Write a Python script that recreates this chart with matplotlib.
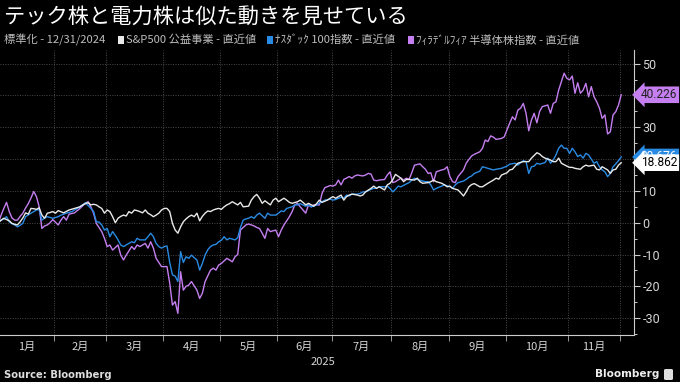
import matplotlib
matplotlib.use("Agg")
import matplotlib.pyplot as plt
import matplotlib.patches as mpatches
import matplotlib.transforms as mtransforms
import pandas as pd

plt.rcParams['font.family'] = ['Noto Sans CJK JP', 'DejaVu Sans']

# NYSE sessions, Dec 31 2024 .. Dec 1 2025 (the chart is drawn on a trading-day axis)
holidays = ['2025-01-01', '2025-01-09', '2025-01-20', '2025-02-17', '2025-04-18',
            '2025-05-26', '2025-06-19', '2025-07-04', '2025-09-01', '2025-11-27']
month_labels = ['1月', '2月', '3月', '4月', '5月', '6月', '7月', '8月', '9月', '10月', '11月']
year_label = '2025'

# Philadelphia semiconductor index, % change vs 12/31/2024
sox_dates = ['2024-12-31', '2025-01-02', '2025-01-03', '2025-01-06', '2025-01-07', '2025-01-08', '2025-01-10', '2025-01-13',
             '2025-01-14', '2025-01-15', '2025-01-16', '2025-01-17', '2025-01-21', '2025-01-22', '2025-01-23', '2025-01-24',
             '2025-01-27', '2025-01-28', '2025-01-29', '2025-01-30', '2025-01-31', '2025-02-04', '2025-02-05', '2025-02-06',
             '2025-02-07', '2025-02-10', '2025-02-12', '2025-02-14', '2025-02-19', '2025-02-20', '2025-02-21', '2025-02-24',
             '2025-02-25', '2025-02-27', '2025-02-28', '2025-03-03', '2025-03-04', '2025-03-05', '2025-03-07', '2025-03-10',
             '2025-03-11', '2025-03-12', '2025-03-14', '2025-03-17', '2025-03-18', '2025-03-19', '2025-03-21', '2025-03-24',
             '2025-03-25', '2025-03-26', '2025-03-27', '2025-03-31', '2025-04-01', '2025-04-02', '2025-04-03', '2025-04-04',
             '2025-04-07', '2025-04-08', '2025-04-09', '2025-04-10', '2025-04-11', '2025-04-14', '2025-04-15', '2025-04-17',
             '2025-04-21', '2025-04-22', '2025-04-23', '2025-04-25', '2025-04-28', '2025-04-29', '2025-04-30', '2025-05-01',
             '2025-05-05', '2025-05-06', '2025-05-07', '2025-05-08', '2025-05-09', '2025-05-12', '2025-05-13', '2025-05-14',
             '2025-05-15', '2025-05-19', '2025-05-20', '2025-05-21', '2025-05-22', '2025-05-23', '2025-05-27', '2025-05-28',
             '2025-05-30', '2025-06-02', '2025-06-03', '2025-06-04', '2025-06-06', '2025-06-09', '2025-06-10', '2025-06-11',
             '2025-06-12', '2025-06-16', '2025-06-17', '2025-06-18', '2025-06-20', '2025-06-24', '2025-06-25', '2025-06-26',
             '2025-06-30', '2025-07-01', '2025-07-02', '2025-07-03', '2025-07-07', '2025-07-08', '2025-07-10', '2025-07-11',
             '2025-07-14', '2025-07-15', '2025-07-17', '2025-07-18', '2025-07-21', '2025-07-22', '2025-07-23', '2025-07-24',
             '2025-07-25', '2025-07-29', '2025-07-30', '2025-07-31', '2025-08-01', '2025-08-04', '2025-08-06', '2025-08-07',
             '2025-08-08', '2025-08-11', '2025-08-12', '2025-08-13', '2025-08-15', '2025-08-18', '2025-08-19', '2025-08-20',
             '2025-08-21', '2025-08-22', '2025-08-25', '2025-08-26', '2025-08-27', '2025-08-28', '2025-08-29', '2025-09-02',
             '2025-09-03', '2025-09-04', '2025-09-05', '2025-09-09', '2025-09-10', '2025-09-11', '2025-09-12', '2025-09-15',
             '2025-09-17', '2025-09-18', '2025-09-19', '2025-09-22', '2025-09-23', '2025-09-24', '2025-09-25', '2025-09-29',
             '2025-09-30', '2025-10-01', '2025-10-02', '2025-10-03', '2025-10-06', '2025-10-07', '2025-10-08', '2025-10-09',
             '2025-10-10', '2025-10-13', '2025-10-14', '2025-10-15', '2025-10-16', '2025-10-17', '2025-10-20', '2025-10-22',
             '2025-10-23', '2025-10-24', '2025-10-27', '2025-10-28', '2025-10-29', '2025-10-30', '2025-10-31', '2025-11-03',
             '2025-11-04', '2025-11-05', '2025-11-06', '2025-11-07', '2025-11-10', '2025-11-11', '2025-11-12', '2025-11-13',
             '2025-11-14', '2025-11-17', '2025-11-18', '2025-11-19', '2025-11-20', '2025-11-21', '2025-11-24', '2025-11-25',
             '2025-11-26', '2025-11-28', '2025-12-01']
sox_vals = [0, 2.4, 4.5, 6.4, 3.5, 1.5, 0.8, 0.8, 2.0, 3.0, 4.6, 6.0, 7.8, 9.8, 8.2, 5.0,
            -1.8, -1.0, -0.7, 0.0, 1.0, -0.7, 0.8, 1.9, 0.8, 2.7, 3.1, 4.5, 6.1, 6.6, 5.0, 3.0,
            -0.2, -2.8, -4.9, -7.5, -7.0, -8.6, -7.0, -10.2, -11.7, -10.2, -7.5, -8.4, -7.0, -7.5, -6.5, -8.0,
            -6.0, -8.0, -11.2, -13.8, -13.8, -13.8, -19.0, -25.9, -24.8, -28.5, -15.4, -21.2, -20.0, -19.6, -18.5, -21.2,
            -23.8, -22.2, -18.5, -14.9, -14.3, -14.9, -13.3, -12.8, -11.2, -11.7, -12.3, -10.7, -10.0, -2.3, -1.5, -0.7,
            -0.4, -1.0, -1.5, -1.8, -3.3, -4.9, -1.8, -2.8, -2.3, -4.4, -2.3, -0.7, 1.9, 3.5, 5.6, 6.1,
            5.0, 3.0, 5.6, 5.0, 5.6, 5.6, 9.2, 11.0, 11.7, 11.5, 11.9, 13.4, 11.9, 13.6, 14.5, 14.0,
            14.7, 15.0, 14.7, 15.0, 15.5, 15.3, 13.4, 13.2, 13.4, 13.6, 15.0, 16.0, 12.6, 12.9, 14.0, 13.4,
            14.0, 13.6, 15.7, 18.1, 18.5, 17.6, 16.8, 15.5, 15.7, 12.9, 16.0, 16.3, 16.6, 16.8, 17.6, 14.5,
            12.9, 12.6, 14.5, 16.6, 18.7, 19.9, 21.0, 21.5, 22.3, 23.4, 26.0, 25.5, 27.3, 26.9, 26.2, 26.5,
            27.0, 29.2, 31.3, 33.3, 32.3, 35.4, 36.0, 37.5, 34.4, 28.9, 32.3, 34.4, 31.4, 35.0, 36.5, 37.0,
            34.4, 37.5, 38.0, 41.7, 44.3, 47.0, 45.4, 44.9, 46.1, 40.7, 44.0, 40.7, 41.7, 43.8, 39.6, 42.8,
            39.6, 38.0, 36.0, 32.8, 33.9, 27.9, 28.6, 33.9, 34.9, 37.0, 40.226]

# Nasdaq 100
ndx_dates = ['2024-12-31', '2025-01-02', '2025-01-03', '2025-01-06', '2025-01-07', '2025-01-08', '2025-01-10', '2025-01-13',
             '2025-01-14', '2025-01-15', '2025-01-16', '2025-01-21', '2025-01-23', '2025-01-24', '2025-01-27', '2025-01-28',
             '2025-01-29', '2025-01-31', '2025-02-04', '2025-02-05', '2025-02-07', '2025-02-11', '2025-02-13', '2025-02-18',
             '2025-02-19', '2025-02-21', '2025-02-24', '2025-02-25', '2025-02-26', '2025-02-27', '2025-02-28', '2025-03-03',
             '2025-03-04', '2025-03-05', '2025-03-06', '2025-03-07', '2025-03-10', '2025-03-11', '2025-03-12', '2025-03-13',
             '2025-03-14', '2025-03-17', '2025-03-18', '2025-03-19', '2025-03-20', '2025-03-21', '2025-03-24', '2025-03-25',
             '2025-03-26', '2025-03-27', '2025-03-28', '2025-03-31', '2025-04-01', '2025-04-02', '2025-04-03', '2025-04-04',
             '2025-04-07', '2025-04-08', '2025-04-09', '2025-04-10', '2025-04-11', '2025-04-14', '2025-04-15', '2025-04-16',
             '2025-04-17', '2025-04-21', '2025-04-22', '2025-04-23', '2025-04-24', '2025-04-25', '2025-04-28', '2025-04-29',
             '2025-04-30', '2025-05-01', '2025-05-02', '2025-05-05', '2025-05-06', '2025-05-08', '2025-05-09', '2025-05-12',
             '2025-05-13', '2025-05-14', '2025-05-15', '2025-05-16', '2025-05-19', '2025-05-20', '2025-05-21', '2025-05-22',
             '2025-05-23', '2025-05-27', '2025-05-28', '2025-05-30', '2025-06-02', '2025-06-03', '2025-06-04', '2025-06-05',
             '2025-06-09', '2025-06-10', '2025-06-11', '2025-06-12', '2025-06-16', '2025-06-17', '2025-06-18', '2025-06-20',
             '2025-06-24', '2025-06-25', '2025-06-26', '2025-06-30', '2025-07-01', '2025-07-02', '2025-07-07', '2025-07-08',
             '2025-07-09', '2025-07-10', '2025-07-11', '2025-07-15', '2025-07-16', '2025-07-17', '2025-07-18', '2025-07-22',
             '2025-07-23', '2025-07-24', '2025-07-25', '2025-07-29', '2025-07-30', '2025-07-31', '2025-08-01', '2025-08-04',
             '2025-08-05', '2025-08-06', '2025-08-08', '2025-08-11', '2025-08-12', '2025-08-13', '2025-08-14', '2025-08-18',
             '2025-08-19', '2025-08-20', '2025-08-21', '2025-08-22', '2025-08-25', '2025-08-27', '2025-08-28', '2025-09-02',
             '2025-09-03', '2025-09-04', '2025-09-05', '2025-09-09', '2025-09-10', '2025-09-11', '2025-09-12', '2025-09-15',
             '2025-09-17', '2025-09-18', '2025-09-22', '2025-09-24', '2025-09-25', '2025-09-29', '2025-10-01', '2025-10-02',
             '2025-10-06', '2025-10-07', '2025-10-08', '2025-10-09', '2025-10-10', '2025-10-13', '2025-10-14', '2025-10-15',
             '2025-10-16', '2025-10-17', '2025-10-21', '2025-10-22', '2025-10-23', '2025-10-24', '2025-10-27', '2025-10-28',
             '2025-10-29', '2025-10-30', '2025-10-31', '2025-11-03', '2025-11-04', '2025-11-05', '2025-11-06', '2025-11-07',
             '2025-11-10', '2025-11-11', '2025-11-12', '2025-11-14', '2025-11-17', '2025-11-18', '2025-11-19', '2025-11-20',
             '2025-11-21', '2025-11-24', '2025-11-25', '2025-11-26', '2025-11-28', '2025-12-01']
ndx_vals = [0, 0.8, 1.2, 1.9, 0.3, -0.3, -0.7, -1.3, -0.8, -0.2, 1.9, 3.0, 4.0, 4.2, 0.8, 1.5,
            1.9, 1.4, 1.9, 2.4, 3.0, 3.5, 4.5, 5.6, 6.3, 4.5, 3.5, 0.3, 0.2, -0.7, -2.3, -1.8,
            -4.4, -2.8, -4.0, -5.4, -7.0, -7.5, -7.0, -6.5, -6.0, -6.3, -4.9, -5.4, -5.4, -5.4, -4.4, -3.3,
            -4.4, -6.5, -7.5, -8.0, -7.5, -7.3, -12.5, -16.4, -16.8, -18.5, -9.1, -12.5, -10.7, -11.2, -10.2, -11.0,
            -11.7, -14.9, -12.8, -10.2, -8.5, -7.5, -7.0, -6.8, -6.0, -5.5, -4.4, -5.4, -4.9, -5.4, -4.7, -1.5,
            0.8, 1.2, 1.4, 1.9, 1.4, 2.4, 3.0, 2.2, 1.4, 3.0, 2.4, 2.4, 3.0, 3.7, 3.5, 4.5,
            5.0, 5.6, 5.6, 6.0, 5.2, 5.6, 5.0, 5.2, 6.1, 6.6, 7.1, 7.4, 7.1, 7.3, 8.0, 7.7,
            8.7, 8.4, 9.0, 9.0, 9.2, 9.7, 9.7, 10.5, 10.8, 10.8, 11.3, 11.3, 11.5, 10.8, 9.7, 10.5,
            11.5, 11.3, 12.2, 12.6, 13.4, 14.0, 13.6, 13.1, 12.9, 12.9, 11.9, 10.3, 10.8, 11.5, 11.9, 11.3,
            10.8, 11.9, 12.6, 13.1, 13.6, 14.3, 14.7, 15.5, 16.2, 17.6, 17.1, 16.6, 16.8, 17.1, 17.8, 18.4,
            18.7, 18.1, 18.9, 19.5, 19.2, 15.5, 17.6, 17.8, 18.7, 18.4, 18.9, 20.3, 18.7, 19.7, 21.3, 23.4,
            24.4, 23.4, 23.4, 21.8, 23.4, 22.3, 20.8, 21.3, 20.3, 21.8, 21.3, 18.7, 19.2, 17.6, 16.6, 16.0,
            14.5, 15.5, 17.6, 18.5, 19.5, 20.676]

# S&P 500 utilities
utl_dates = ['2024-12-31', '2025-01-02', '2025-01-03', '2025-01-06', '2025-01-07', '2025-01-08', '2025-01-10', '2025-01-13',
             '2025-01-14', '2025-01-15', '2025-01-16', '2025-01-17', '2025-01-21', '2025-01-22', '2025-01-23', '2025-01-24',
             '2025-01-27', '2025-01-28', '2025-01-29', '2025-01-30', '2025-01-31', '2025-02-03', '2025-02-04', '2025-02-06',
             '2025-02-10', '2025-02-12', '2025-02-14', '2025-02-18', '2025-02-19', '2025-02-20', '2025-02-21', '2025-02-24',
             '2025-02-25', '2025-02-26', '2025-02-27', '2025-02-28', '2025-03-03', '2025-03-04', '2025-03-05', '2025-03-06',
             '2025-03-07', '2025-03-10', '2025-03-11', '2025-03-12', '2025-03-13', '2025-03-14', '2025-03-17', '2025-03-18',
             '2025-03-19', '2025-03-20', '2025-03-21', '2025-03-24', '2025-03-25', '2025-03-26', '2025-03-27', '2025-03-28',
             '2025-03-31', '2025-04-01', '2025-04-02', '2025-04-03', '2025-04-04', '2025-04-07', '2025-04-08', '2025-04-09',
             '2025-04-10', '2025-04-11', '2025-04-14', '2025-04-15', '2025-04-16', '2025-04-17', '2025-04-21', '2025-04-22',
             '2025-04-23', '2025-04-24', '2025-04-25', '2025-04-28', '2025-04-29', '2025-04-30', '2025-05-01', '2025-05-02',
             '2025-05-05', '2025-05-06', '2025-05-07', '2025-05-08', '2025-05-09', '2025-05-12', '2025-05-13', '2025-05-15',
             '2025-05-16', '2025-05-19', '2025-05-20', '2025-05-21', '2025-05-22', '2025-05-23', '2025-05-28', '2025-05-29',
             '2025-05-30', '2025-06-02', '2025-06-04', '2025-06-05', '2025-06-06', '2025-06-09', '2025-06-11', '2025-06-12',
             '2025-06-13', '2025-06-16', '2025-06-17', '2025-06-20', '2025-06-23', '2025-06-24', '2025-06-25', '2025-06-27',
             '2025-06-30', '2025-07-01', '2025-07-02', '2025-07-07', '2025-07-08', '2025-07-09', '2025-07-10', '2025-07-11',
             '2025-07-15', '2025-07-16', '2025-07-17', '2025-07-18', '2025-07-22', '2025-07-23', '2025-07-24', '2025-07-25',
             '2025-07-29', '2025-07-30', '2025-07-31', '2025-08-01', '2025-08-04', '2025-08-06', '2025-08-07', '2025-08-08',
             '2025-08-11', '2025-08-13', '2025-08-14', '2025-08-15', '2025-08-18', '2025-08-20', '2025-08-21', '2025-08-22',
             '2025-08-25', '2025-08-27', '2025-08-28', '2025-08-29', '2025-09-02', '2025-09-03', '2025-09-05', '2025-09-08',
             '2025-09-09', '2025-09-10', '2025-09-11', '2025-09-12', '2025-09-15', '2025-09-17', '2025-09-18', '2025-09-22',
             '2025-09-24', '2025-09-25', '2025-09-26', '2025-09-29', '2025-10-01', '2025-10-02', '2025-10-03', '2025-10-06',
             '2025-10-07', '2025-10-09', '2025-10-10', '2025-10-13', '2025-10-14', '2025-10-16', '2025-10-17', '2025-10-20',
             '2025-10-21', '2025-10-23', '2025-10-24', '2025-10-27', '2025-10-28', '2025-10-29', '2025-10-31', '2025-11-03',
             '2025-11-04', '2025-11-05', '2025-11-07', '2025-11-10', '2025-11-11', '2025-11-12', '2025-11-14', '2025-11-17',
             '2025-11-18', '2025-11-19', '2025-11-21', '2025-11-24', '2025-11-25', '2025-11-26', '2025-11-28', '2025-12-01']
utl_vals = [0, 0.8, 1.4, 1.0, 0.6, -0.2, -0.5, -0.7, 0.3, 1.5, 3.1, 2.7, 4.5, 4.4, 4.2, 4.7,
            2.4, 1.4, 3.0, 3.2, 3.5, 3.0, 3.8, 3.1, 4.0, 4.5, 5.0, 5.6, 6.0, 6.3, 5.6, 5.8,
            5.6, 5.0, 4.5, 3.0, 4.0, 3.5, 1.9, 0.0, 1.4, 2.0, 2.4, 2.1, 3.5, 3.0, 4.0, 3.8,
            3.5, 3.1, 4.0, 3.0, 2.5, 1.9, 2.4, 3.0, 4.0, 4.5, 4.5, 3.5, -0.2, -2.3, -3.3, -1.3,
            0.3, 1.2, 1.9, 2.4, 1.9, 3.0, 0.6, 2.0, 3.0, 3.7, 3.5, 4.0, 4.3, 4.5, 4.2, 5.0,
            5.6, 6.0, 6.6, 6.1, 5.6, 6.4, 5.0, 5.2, 7.1, 8.2, 8.9, 7.7, 6.1, 6.9, 5.6, 7.1,
            7.7, 6.6, 7.7, 7.1, 6.4, 6.1, 6.6, 7.1, 6.4, 5.6, 6.1, 5.2, 6.0, 7.1, 6.4, 7.1,
            7.7, 8.2, 7.7, 8.7, 7.1, 8.2, 8.7, 9.0, 8.7, 8.4, 8.7, 9.7, 10.8, 11.5, 10.8, 11.3,
            10.3, 11.9, 12.4, 13.5, 15.2, 14.0, 12.9, 13.6, 13.6, 13.4, 14.0, 12.9, 12.4, 12.6, 12.9, 13.4,
            12.9, 12.4, 11.9, 11.3, 11.5, 10.8, 10.3, 9.4, 8.4, 9.7, 11.3, 12.0, 12.3, 11.3, 11.3, 12.4,
            13.4, 14.0, 13.7, 15.0, 15.7, 16.6, 16.8, 17.8, 18.7, 19.2, 19.2, 19.2, 20.3, 22.0, 21.6, 20.8,
            20.3, 19.7, 19.2, 19.2, 20.3, 18.7, 17.8, 17.4, 17.4, 17.1, 16.8, 17.6, 18.1, 17.8, 18.1, 16.8,
            16.6, 17.6, 16.6, 15.5, 16.6, 16.8, 18.1, 18.862]

W, H = 680, 382
BG = 'black'
C_UTL = '#e9e9e9'
C_NDX = '#2a8be3'
C_SOX = '#c57ff0'
GRID = '#4a4a4a'
TXT = '#d6d6d6'
NUMFONT = ['Roboto', 'DejaVu Sans']

sessions = pd.bdate_range('2024-12-31', '2025-12-01', freq='C', holidays=holidays)


def session_idx(dates):
    return sessions.get_indexer(pd.to_datetime(dates))


fig = plt.figure(figsize=(W / 100, H / 100), dpi=100, facecolor=BG)
ax = fig.add_axes([0, 1 - 335 / H, 634 / W, (335 - 50) / H])
ax.set_facecolor(BG)

ax.plot(session_idx(sox_dates), sox_vals, color=C_SOX, lw=1.0, zorder=3)
ax.plot(session_idx(ndx_dates), ndx_vals, color=C_NDX, lw=1.0, zorder=3)
ax.plot(session_idx(utl_dates), utl_vals, color=C_UTL, lw=1.0, zorder=3)

ax.set_xlim(0.6, 233.7)
ax.set_ylim(-35.3, 54.3)

# month boundaries = first session of each month (Jan .. Dec)
firsts = [i for i in range(1, len(sessions)) if sessions[i].month != sessions[i - 1].month]
bounds = [f - 0.5 for f in firsts]
ax.set_xticks(bounds[1:])
ax.set_xticklabels([])
ax.tick_params(axis='x', direction='out', length=4, width=0.7, color='#999999')

ax.yaxis.tick_right()
yt = list(range(-30, 51, 10))
ax.set_yticks(yt)
# 40 and 20 sit under the last-value tags
ax.set_yticklabels(['' if v in (20, 40) else str(v) for v in yt], family=NUMFONT)
ax.set_yticks(range(-35, 55, 5), minor=True)
ax.tick_params(axis='y', which='major', direction='out', length=4, width=0.8,
               color='#cccccc', labelcolor=TXT, labelsize=9, pad=2)
ax.tick_params(axis='y', which='minor', direction='out', length=2.5, width=0.7, color='#cccccc')

ax.grid(True, which='major', color=GRID, linestyle=(0, (1, 1.5)), lw=0.7)
for side in ['left', 'top']:
    ax.spines[side].set_visible(False)
for side in ['right', 'bottom']:
    ax.spines[side].set_color('#cccccc')
    ax.spines[side].set_linewidth(0.8)

# month labels centred in each month
trans = mtransforms.blended_transform_factory(ax.transData, fig.transFigure)
for k, lab in enumerate(month_labels):
    mid = (bounds[k] + bounds[k + 1]) / 2
    ax.text(mid, 1 - 347 / H, lab, transform=trans, ha='center', va='center',
            color=TXT, fontsize=8)
fig.text(323 / W, 1 - 362 / H, year_label, ha='center', va='center', color=TXT, fontsize=8)

# last-value tags
tags = [(ndx_vals[-1], C_NDX, 'white'), (utl_vals[-1], 'white', 'black'), (sox_vals[-1], C_SOX, '#222222')]
for val, fc, tc in tags:
    ax.annotate(f'{val:.3f}', xy=(1.0, val), xycoords=('axes fraction', 'data'),
                xytext=(5.0, 0), textcoords='offset points', ha='left', va='center',
                fontsize=8.6, color=tc, family=NUMFONT,
                bbox=dict(boxstyle='larrow,pad=0.15', fc=fc, ec='none'),
                annotation_clip=False, zorder=10)

# header
fig.text(4 / W, 1 - 17 / H, 'テック株と電力株は似た動きを見せている', color='white',
         fontsize=15.3, va='center', ha='left')
sub_y = 1 - 40 / H
fig.text(4 / W, sub_y, '標準化 - 12/31/2024', color='#bdbdbd', fontsize=8.1, va='center')
legend_items = [(118, C_UTL, 'S&P500 公益事業 - 直近値'),
                (267, C_NDX, 'ﾅｽﾀﾞｯｸ 100指数 - 直近値'),
                (408, C_SOX, 'ﾌｨﾗﾃﾞﾙﾌｨｱ 半導体株指数 - 直近値')]
for px, col, lab in legend_items:
    fig.patches.append(mpatches.Rectangle((px / W, 1 - 43.5 / H), 6 / W, 7 / H,
                                          transform=fig.transFigure, fc=col, ec='none'))
    fig.text((px + 8) / W, sub_y, lab, color='#bdbdbd', fontsize=8.1, va='center')

# footer
fig.text(4 / W, 1 - 375 / H, 'Source: Bloomberg', color='#dddddd', fontsize=7.2,
         fontweight='bold', va='center', family=['DejaVu Sans'])
fig.text(659 / W, 1 - 374 / H, 'Bloomberg', color='#eeeeee', fontsize=7.6,
         fontweight='bold', va='center', ha='right', family=['DejaVu Sans'])
fig.patches.append(mpatches.FancyBboxPatch((664 / W, 1 - 380 / H), 9 / W, 11 / H,
                                           boxstyle='round,pad=0,rounding_size=0.003',
                                           transform=fig.transFigure, fc='#dddddd', ec='none'))

fig.savefig('out.png', dpi=100, facecolor=BG)
